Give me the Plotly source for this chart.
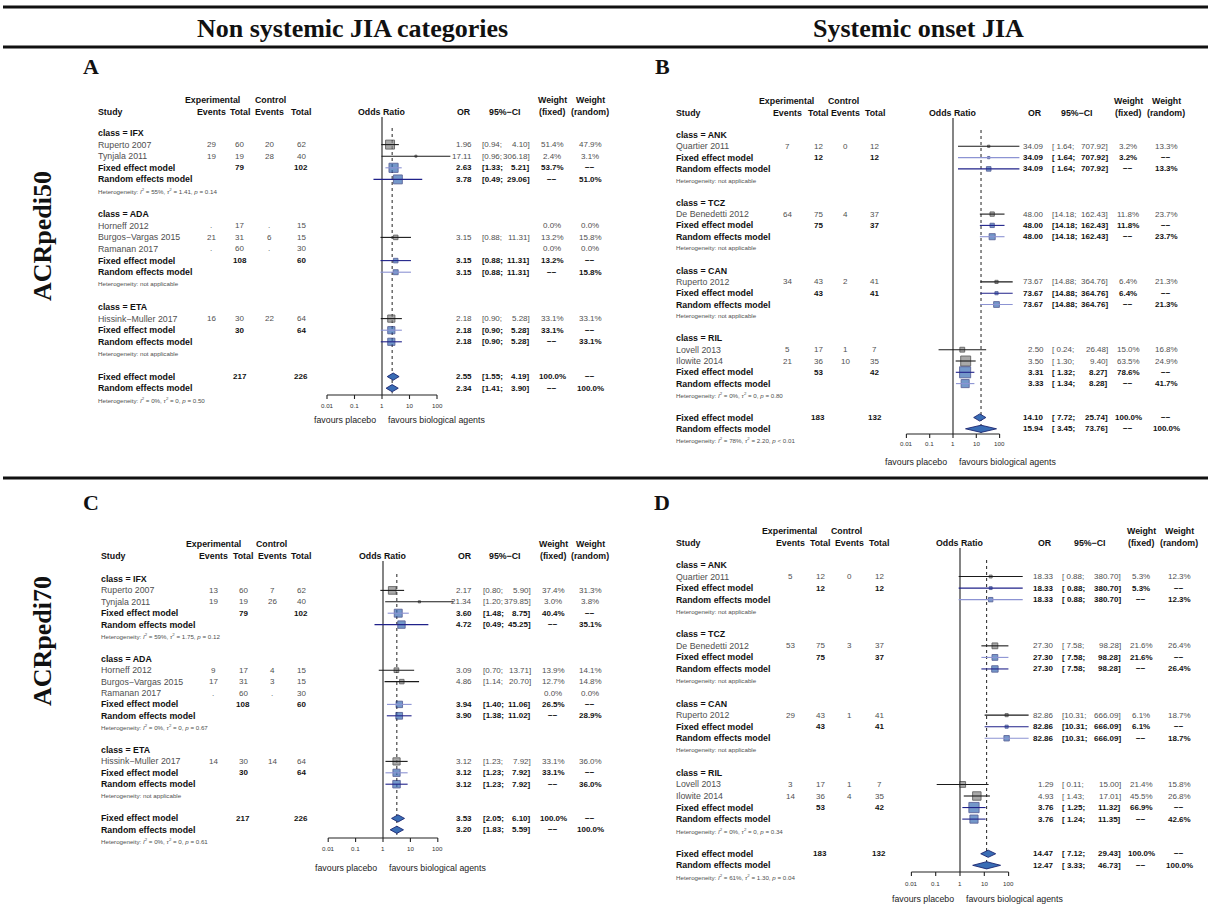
import math
import plotly.graph_objects as go

W, H = 1208, 911
SANS = "Liberation Sans, Arial, Helvetica, sans-serif"
SERIF = "Liberation Serif, Times New Roman, serif"
M = "\u2212"

# ---------------- Panel A : ACRpedi50, non systemic JIA ----------------
A_study = ["Ruperto 2007", "Tynjala 2011", "Horneff 2012", "Burgos" + M + "Vargas 2015", "Ramanan 2017", "Hissink" + M + "Muller 2017"]
A_group = ["IFX", "IFX", "ADA", "ADA", "ADA", "ETA"]
A_e_ev = [29, 19, None, 21, None, 16]
A_e_tot = [60, 19, 17, 31, 60, 30]
A_c_ev = [20, 28, None, 6, None, 22]
A_c_tot = [62, 40, 15, 15, 30, 64]
A_or = [1.96, 17.11, None, 3.15, None, 2.18]
A_lo = [0.94, 0.96, None, 0.88, None, 0.90]
A_hi = [4.10, 306.18, None, 11.31, None, 5.28]
A_wf = [51.4, 2.4, 0.0, 13.2, 0.0, 33.1]
A_wr = [47.9, 3.1, 0.0, 15.8, 0.0, 33.1]
A_sub = ["IFX", "ADA", "ETA"]
A_sub_e_tot = [79, 108, 30]
A_sub_c_tot = [102, 60, 64]
A_sub_fe = [2.63, 3.15, 2.18]
A_sub_fe_lo = [1.33, 0.88, 0.90]
A_sub_fe_hi = [5.21, 11.31, 5.28]
A_sub_fe_w = [53.7, 13.2, 33.1]
A_sub_re = [3.78, 3.15, 2.18]
A_sub_re_lo = [0.49, 0.88, 0.90]
A_sub_re_hi = [29.06, 11.31, 5.28]
A_sub_re_w = [51.0, 15.8, 33.1]
A_sub_I2 = [55, None, None]
A_sub_tau2 = ["1.41", None, None]
A_sub_p = ["= 0.14", None, None]
A_all_e_tot = 217
A_all_c_tot = 226
A_all_fe = [2.55, 1.55, 4.19]
A_all_re = [2.34, 1.41, 3.90]
A_all_het = [0, "0", "= 0.50"]

# ---------------- Panel B : ACRpedi50, systemic onset JIA ----------------
B_study = ["Quartier 2011", "De Benedetti 2012", "Ruperto 2012", "Lovell 2013", "Ilowite 2014"]
B_group = ["ANK", "TCZ", "CAN", "RIL", "RIL"]
B_e_ev = [7, 64, 34, 5, 21]
B_e_tot = [12, 75, 43, 17, 36]
B_c_ev = [0, 4, 2, 1, 10]
B_c_tot = [12, 37, 41, 7, 35]
B_or = [34.09, 48.00, 73.67, 2.50, 3.50]
B_lo = [1.64, 14.18, 14.88, 0.24, 1.30]
B_hi = [707.92, 162.43, 364.76, 26.48, 9.40]
B_wf = [3.2, 11.8, 6.4, 15.0, 63.5]
B_wr = [13.3, 23.7, 21.3, 16.8, 24.9]
B_sub = ["ANK", "TCZ", "CAN", "RIL"]
B_sub_e_tot = [12, 75, 43, 53]
B_sub_c_tot = [12, 37, 41, 42]
B_sub_fe = [34.09, 48.00, 73.67, 3.31]
B_sub_fe_lo = [1.64, 14.18, 14.88, 1.32]
B_sub_fe_hi = [707.92, 162.43, 364.76, 8.27]
B_sub_fe_w = [3.2, 11.8, 6.4, 78.6]
B_sub_re = [34.09, 48.00, 73.67, 3.33]
B_sub_re_lo = [1.64, 14.18, 14.88, 1.34]
B_sub_re_hi = [707.92, 162.43, 364.76, 8.28]
B_sub_re_w = [13.3, 23.7, 21.3, 41.7]
B_sub_I2 = [None, None, None, 0]
B_sub_tau2 = [None, None, None, "0"]
B_sub_p = [None, None, None, "= 0.80"]
B_all_e_tot = 183
B_all_c_tot = 132
B_all_fe = [14.10, 7.72, 25.74]
B_all_re = [15.94, 3.45, 73.76]
B_all_het = [78, "2.20", "< 0.01"]

# ---------------- Panel C : ACRpedi70, non systemic JIA ----------------
C_study = ["Ruperto 2007", "Tynjala 2011", "Horneff 2012", "Burgos" + M + "Vargas 2015", "Ramanan 2017", "Hissink" + M + "Muller 2017"]
C_group = ["IFX", "IFX", "ADA", "ADA", "ADA", "ETA"]
C_e_ev = [13, 19, 9, 17, None, 14]
C_e_tot = [60, 19, 17, 31, 60, 30]
C_c_ev = [7, 26, 4, 3, None, 14]
C_c_tot = [62, 40, 15, 15, 30, 64]
C_or = [2.17, 21.34, 3.09, 4.86, None, 3.12]
C_lo = [0.80, 1.20, 0.70, 1.14, None, 1.23]
C_hi = [5.90, 379.85, 13.71, 20.70, None, 7.92]
C_wf = [37.4, 3.0, 13.9, 12.7, 0.0, 33.1]
C_wr = [31.3, 3.8, 14.1, 14.8, 0.0, 36.0]
C_sub = ["IFX", "ADA", "ETA"]
C_sub_e_tot = [79, 108, 30]
C_sub_c_tot = [102, 60, 64]
C_sub_fe = [3.60, 3.94, 3.12]
C_sub_fe_lo = [1.48, 1.40, 1.23]
C_sub_fe_hi = [8.75, 11.06, 7.92]
C_sub_fe_w = [40.4, 26.5, 33.1]
C_sub_re = [4.72, 3.90, 3.12]
C_sub_re_lo = [0.49, 1.38, 1.23]
C_sub_re_hi = [45.25, 11.02, 7.92]
C_sub_re_w = [35.1, 28.9, 36.0]
C_sub_I2 = [59, 0, None]
C_sub_tau2 = ["1.75", "0", None]
C_sub_p = ["= 0.12", "= 0.67", None]
C_all_e_tot = 217
C_all_c_tot = 226
C_all_fe = [3.53, 2.05, 6.10]
C_all_re = [3.20, 1.83, 5.59]
C_all_het = [0, "0", "= 0.61"]

# ---------------- Panel D : ACRpedi70, systemic onset JIA ----------------
D_study = ["Quartier 2011", "De Benedetti 2012", "Ruperto 2012", "Lovell 2013", "Ilowite 2014"]
D_group = ["ANK", "TCZ", "CAN", "RIL", "RIL"]
D_e_ev = [5, 53, 29, 3, 14]
D_e_tot = [12, 75, 43, 17, 36]
D_c_ev = [0, 3, 1, 1, 4]
D_c_tot = [12, 37, 41, 7, 35]
D_or = [18.33, 27.30, 82.86, 1.29, 4.93]
D_lo = [0.88, 7.58, 10.31, 0.11, 1.43]
D_hi = [380.70, 98.28, 666.09, 15.00, 17.01]
D_wf = [5.3, 21.6, 6.1, 21.4, 45.5]
D_wr = [12.3, 26.4, 18.7, 15.8, 26.8]
D_sub = ["ANK", "TCZ", "CAN", "RIL"]
D_sub_e_tot = [12, 75, 43, 53]
D_sub_c_tot = [12, 37, 41, 42]
D_sub_fe = [18.33, 27.30, 82.86, 3.76]
D_sub_fe_lo = [0.88, 7.58, 10.31, 1.25]
D_sub_fe_hi = [380.70, 98.28, 666.09, 11.32]
D_sub_fe_w = [5.3, 21.6, 6.1, 66.9]
D_sub_re = [18.33, 27.30, 82.86, 3.76]
D_sub_re_lo = [0.88, 7.58, 10.31, 1.24]
D_sub_re_hi = [380.70, 98.28, 666.09, 11.35]
D_sub_re_w = [12.3, 26.4, 18.7, 42.6]
D_sub_I2 = [None, None, None, 0]
D_sub_tau2 = [None, None, None, "0"]
D_sub_p = [None, None, None, "= 0.34"]
D_all_e_tot = 183
D_all_c_tot = 132
D_all_fe = [14.47, 7.12, 29.43]
D_all_re = [12.47, 3.33, 46.73]
D_all_het = [61, "1.30", "= 0.04"]

TICKS = [0.01, 0.1, 1, 10, 100]
TICK_LABELS = ["0.01", "0.1", "1", "10", "100"]

# ---------------- styles ----------------
LIGHT, DARK = "#8c93d3", "#20228a"
A_fe_col = [LIGHT, DARK, LIGHT]; A_re_col = [DARK, LIGHT, DARK]
B_fe_col = [LIGHT, DARK, DARK, DARK]; B_re_col = [DARK, LIGHT, LIGHT, LIGHT]
C_fe_col = [LIGHT, LIGHT, LIGHT]; C_re_col = [DARK, DARK, DARK]
D_fe_col = [DARK, LIGHT, DARK, DARK]; D_re_col = [LIGHT, DARK, LIGHT, DARK]
SQ_FILL, SQ_EDGE = "#3a6db5", "#1b2670"
ST_FILL, ST_EDGE = "#858585", "#222222"
GRAY = "#4f4f4f"
BLACK = "#111111"

GEOM = {
    "A": dict(row0=133, rh=11.6, x1=382, dec=27.5, study=97, ev=211, tot=240, cev=269, ctot=301, exp=212, ctl=270,
              orh=464, orr=473, cil=481, cir=531, cih=505, wf=552, wr=590, hy1=100, hy2=112, axis=395, tick=405, fav=420),
    "B": dict(row0=135, rh=11.3, x1=953, dec=23.3, study=675, ev=787, tot=818, cev=845, ctot=875, exp=786, ctl=843,
              orh=1035, orr=1045, cil=1051, cir=1109, cih=1077, wf=1128, wr=1166, hy1=101, hy2=113, axis=434, tick=444, fav=462),
    "C": dict(row0=579, rh=11.4, x1=383, dec=27.4, study=100, ev=213, tot=243, cev=272, ctot=301, exp=213, ctl=271,
              orh=465, orr=473, cil=482, cir=532, cih=505, wf=553, wr=590, hy1=544, hy2=556, axis=838, tick=848, fav=868),
    "D": dict(row0=565, rh=11.55, x1=960, dec=24.3, study=675, ev=790, tot=820, cev=849, ctot=879, exp=789, ctl=847,
              orh=1045, orr=1055, cil=1061, cir=1122, cih=1090, wf=1141, wr=1179, hy1=531, hy2=543, axis=872, tick=883, fav=899),
}

KEYS = ["study", "group", "e_ev", "e_tot", "c_ev", "c_tot", "or", "lo", "hi", "wf", "wr", "sub", "sub_e_tot",
        "sub_c_tot", "sub_fe", "sub_fe_lo", "sub_fe_hi", "sub_fe_w", "sub_re", "sub_re_lo", "sub_re_hi", "sub_re_w",
        "sub_I2", "sub_tau2", "sub_p", "all_e_tot", "all_c_tot", "all_fe", "all_re", "all_het", "fe_col", "re_col"]

annotations = []
traces = []
FS = 8.8   # labels
NS = 8.0   # numbers
HS = 6.2   # heterogeneity / ticks


def txt(xpx, ypx, s, anchor="left", size=FS, bold=False, color=BLACK, family=SANS, angle=0):
    annotations.append(dict(xref="paper", yref="paper", x=xpx / W, y=1 - ypx / H, text=s, showarrow=False,
                            xanchor=anchor, yanchor="middle", borderpad=0, textangle=angle,
                            font=dict(family=family, size=size, color=color, weight="bold" if bold else "normal")))


f2 = lambda v: f"{v:.2f}"
fw = lambda v: f"{v:.1f}%"
fe_ = lambda v: "." if v is None else str(v)


def het(I2, tau2, p):
    if I2 is None:
        return "Heterogeneity: not applicable"
    return (f"Heterogeneity: <i>I</i><sup>2</sup> = {I2}%, <i>\u03c4</i><sup>2</sup> = {tau2}, <i>p</i> {p}")


def sqsize(w):
    return max(2.0, 1.25 * math.sqrt(w))


def build(k, name):
    d = {key: globals()[f"{name}_{key}"] for key in KEYS}
    g = GEOM[name]
    xa = "x" if k == 1 else f"x{k}"
    ya = "y" if k == 1 else f"y{k}"
    ypx = lambda r: g["row0"] + r * g["rh"]
    DASH = M + M

    lows = [v for v in d["lo"] if v is not None] + d["sub_fe_lo"] + d["sub_re_lo"] + [d["all_fe"][1], d["all_re"][1]]
    wlo = max(len(f2(v)) for v in lows)

    def num(xk, y, s, anchor, bold=False, color=BLACK):
        txt(g[xk], y, s, anchor, size=NS, bold=bold, color=color)

    def ci(y, lo, hi, bold, color):
        num("cil", y, "[" + f2(lo).rjust(wlo) + ";", "left", bold, color)
        num("cir", y, f2(hi) + "]", "right", bold, color)

    # headers
    txt(g["exp"], g["hy1"], "Experimental", "center", bold=True)
    txt(g["ctl"], g["hy1"], "Control", "center", bold=True)
    txt(g["study"], g["hy2"], "Study", "left", bold=True)
    for key, lab in (("ev", "Events"), ("tot", "Total"), ("cev", "Events"), ("ctot", "Total")):
        txt(g[key], g["hy2"], lab, "center", bold=True)
    txt(g["x1"], g["hy2"], "Odds Ratio", "center", bold=True)
    txt(g["orh"], g["hy2"], "OR", "center", bold=True)
    txt(g["cih"], g["hy2"], "95%" + M + "CI", "center", bold=True)
    txt(g["wf"], g["hy1"], "Weight", "center", bold=True)
    txt(g["wf"], g["hy2"], "(fixed)", "center", bold=True)
    txt(g["wr"], g["hy1"], "Weight", "center", bold=True)
    txt(g["wr"], g["hy2"], "(random)", "center", bold=True)

    segs = {}
    st_sq = ([], [], [])
    sm_sq = ([], [], [])

    def seg(color, lo, hi, r):
        L = segs.setdefault(color, ([], []))
        L[0].extend([lo, hi, None])
        L[1].extend([r, r, None])

    r = 0
    for gi, grp in enumerate(d["sub"]):
        txt(g["study"], ypx(r), f"class = {grp}", bold=True)
        r += 1
        for i, gg in enumerate(d["group"]):
            if gg != grp:
                continue
            y = ypx(r)
            txt(g["study"], y, d["study"][i], color=GRAY)
            num("ev", y, fe_(d["e_ev"][i]), "center", color=GRAY)
            num("tot", y, fe_(d["e_tot"][i]), "center", color=GRAY)
            num("cev", y, fe_(d["c_ev"][i]), "center", color=GRAY)
            num("ctot", y, fe_(d["c_tot"][i]), "center", color=GRAY)
            if d["or"][i] is not None:
                num("orr", y, f2(d["or"][i]), "right", color=GRAY)
                ci(y, d["lo"][i], d["hi"][i], False, GRAY)
                seg("#1a1a1a", d["lo"][i], d["hi"][i], r)
                st_sq[0].append(d["or"][i]); st_sq[1].append(r); st_sq[2].append(sqsize(d["wf"][i]))
            num("wf", y, fw(d["wf"][i]), "center", color=GRAY)
            num("wr", y, fw(d["wr"][i]), "center", color=GRAY)
            r += 1
        # fixed effect
        y = ypx(r)
        txt(g["study"], y, "Fixed effect model", bold=True)
        num("tot", y, str(d["sub_e_tot"][gi]), "center", bold=True)
        num("ctot", y, str(d["sub_c_tot"][gi]), "center", bold=True)
        num("orr", y, f2(d["sub_fe"][gi]), "right", bold=True)
        ci(y, d["sub_fe_lo"][gi], d["sub_fe_hi"][gi], True, BLACK)
        num("wf", y, fw(d["sub_fe_w"][gi]), "center", bold=True)
        num("wr", y, DASH, "center", bold=True)
        seg(d["fe_col"][gi], d["sub_fe_lo"][gi], d["sub_fe_hi"][gi], r)
        sm_sq[0].append(d["sub_fe"][gi]); sm_sq[1].append(r); sm_sq[2].append(sqsize(d["sub_fe_w"][gi]))
        r += 1
        # random effects
        y = ypx(r)
        txt(g["study"], y, "Random effects model", bold=True)
        num("orr", y, f2(d["sub_re"][gi]), "right", bold=True)
        ci(y, d["sub_re_lo"][gi], d["sub_re_hi"][gi], True, BLACK)
        num("wf", y, DASH, "center", bold=True)
        num("wr", y, fw(d["sub_re_w"][gi]), "center", bold=True)
        seg(d["re_col"][gi], d["sub_re_lo"][gi], d["sub_re_hi"][gi], r)
        sm_sq[0].append(d["sub_re"][gi]); sm_sq[1].append(r); sm_sq[2].append(sqsize(d["sub_re_w"][gi]))
        r += 1
        txt(g["study"], ypx(r), het(d["sub_I2"][gi], d["sub_tau2"][gi], d["sub_p"][gi]), size=HS, color=GRAY)
        r += 2

    # overall
    rF, rR = r, r + 1
    y = ypx(rF)
    txt(g["study"], y, "Fixed effect model", bold=True)
    num("tot", y, str(d["all_e_tot"]), "center", bold=True)
    num("ctot", y, str(d["all_c_tot"]), "center", bold=True)
    num("orr", y, f2(d["all_fe"][0]), "right", bold=True)
    ci(y, d["all_fe"][1], d["all_fe"][2], True, BLACK)
    num("wf", y, fw(100.0), "center", bold=True)
    num("wr", y, DASH, "center", bold=True)
    y = ypx(rR)
    txt(g["study"], y, "Random effects model", bold=True)
    num("orr", y, f2(d["all_re"][0]), "right", bold=True)
    ci(y, d["all_re"][1], d["all_re"][2], True, BLACK)
    num("wf", y, DASH, "center", bold=True)
    num("wr", y, fw(100.0), "center", bold=True)
    txt(g["study"], ypx(rR + 1), het(*d["all_het"]), size=HS, color=GRAY)

    ar = (g["axis"] - g["row0"]) / g["rh"]
    top = (g["hy2"] + 5 - g["row0"]) / g["rh"]
    # reference lines
    traces.append(go.Scatter(x=[1, 1], y=[top, ar], mode="lines", line=dict(color="#333333", width=1.2),
                             xaxis=xa, yaxis=ya, hoverinfo="skip"))
    traces.append(go.Scatter(x=[d["all_re"][0]] * 2, y=[-5 / g["rh"], rR + 0.45], mode="lines",
                             line=dict(color="#222222", width=1, dash="dot"), xaxis=xa, yaxis=ya, hoverinfo="skip"))
    # squares
    traces.append(go.Scatter(x=st_sq[0], y=st_sq[1], mode="markers", xaxis=xa, yaxis=ya, hoverinfo="skip",
                             marker=dict(symbol="square", size=st_sq[2], color=ST_FILL, line=dict(color=ST_EDGE, width=0.9))))
    traces.append(go.Scatter(x=sm_sq[0], y=sm_sq[1], mode="markers", xaxis=xa, yaxis=ya, hoverinfo="skip",
                             marker=dict(symbol="square", size=sm_sq[2], color=SQ_FILL, line=dict(color=SQ_EDGE, width=0.9))))
    # CI lines
    for color, (xs, ys) in segs.items():
        traces.append(go.Scatter(x=xs, y=ys, mode="lines", line=dict(color=color, width=1.1),
                                 xaxis=xa, yaxis=ya, hoverinfo="skip", connectgaps=False))
    # diamonds
    hh = 3.6 / g["rh"]
    for est, lo, hi, rr in ((d["all_fe"][0], d["all_fe"][1], d["all_fe"][2], rF),
                            (d["all_re"][0], d["all_re"][1], d["all_re"][2], rR)):
        traces.append(go.Scatter(x=[lo, est, hi, est, lo], y=[rr, rr - hh, rr, rr + hh, rr], mode="lines",
                                 fill="toself", fillcolor=SQ_FILL, line=dict(color=SQ_EDGE, width=0.9),
                                 xaxis=xa, yaxis=ya, hoverinfo="skip"))
    # axis
    tl = 4 / g["rh"]
    traces.append(go.Scatter(x=[TICKS[0], TICKS[-1]], y=[ar, ar], mode="lines", line=dict(color="#222222", width=1.1),
                             xaxis=xa, yaxis=ya, hoverinfo="skip"))
    tx, ty = [], []
    for t in TICKS:
        tx += [t, t, None]
        ty += [ar, ar + tl, None]
    traces.append(go.Scatter(x=tx, y=ty, mode="lines", line=dict(color="#222222", width=1.1),
                             xaxis=xa, yaxis=ya, hoverinfo="skip"))
    for t, lab in zip(TICKS, TICK_LABELS):
        txt(g["x1"] + math.log10(t) * g["dec"], g["tick"], lab, "center", size=HS, color="#333333")
    txt(g["x1"] - 5, g["fav"], "favours placebo", "right", color="#222222")
    txt(g["x1"] + 5, g["fav"], "favours biological agents", "left", color="#222222")

    axes = {}
    xr = [(0 - g["x1"]) / g["dec"], (W - g["x1"]) / g["dec"]]
    yr = [(H - g["row0"]) / g["rh"], (0 - g["row0"]) / g["rh"]]
    xkey = "xaxis" if k == 1 else f"xaxis{k}"
    ykey = "yaxis" if k == 1 else f"yaxis{k}"
    axes[xkey] = dict(type="log", range=xr, domain=[0, 1], visible=False, anchor=ya, fixedrange=True)
    axes[ykey] = dict(range=yr, domain=[0, 1], visible=False, anchor=xa, fixedrange=True)
    if k > 1:
        axes[xkey]["overlaying"] = "x"
        axes[ykey]["overlaying"] = "y"
    return axes


layout_axes = {}
for k, name in enumerate(["A", "B", "C", "D"], start=1):
    layout_axes.update(build(k, name))

# titles and panel labels
txt(352, 28, "Non systemic JIA categories", "center", size=26, bold=True, family=SERIF)
txt(918, 28, "Systemic onset JIA", "center", size=26, bold=True, family=SERIF)
for lab, xp, yp in (("A", 91, 66), ("B", 662, 66), ("C", 91, 503), ("D", 662, 503)):
    txt(xp, yp, lab, "center", size=22, bold=True, family=SERIF)
txt(42, 236, "ACRpedi50", "center", size=26, bold=True, family=SERIF, angle=-90)
txt(42, 641, "ACRpedi70", "center", size=26, bold=True, family=SERIF, angle=-90)

shapes = []
for yp in (7, 47, 478):
    shapes.append(dict(type="line", xref="paper", yref="paper", x0=3 / W, x1=1, y0=1 - yp / H, y1=1 - yp / H,
                       line=dict(color="#111111", width=3)))

fig = go.Figure(data=traces)
fig.update_layout(width=W, height=H, margin=dict(l=0, r=0, t=0, b=0), autosize=False,
                  paper_bgcolor="white", plot_bgcolor="rgba(0,0,0,0)", showlegend=False,
                  annotations=annotations, shapes=shapes, **layout_axes)
fig.write_html("out.html", config={"displayModeBar": False, "staticPlot": True})

with open("out.html", "r", encoding="utf-8") as fh:
    html = fh.read()
html = html.replace("<body>", '<body style="margin:0;padding:0;overflow:hidden">', 1)
with open("out.html", "w", encoding="utf-8") as fh:
    fh.write(html)
